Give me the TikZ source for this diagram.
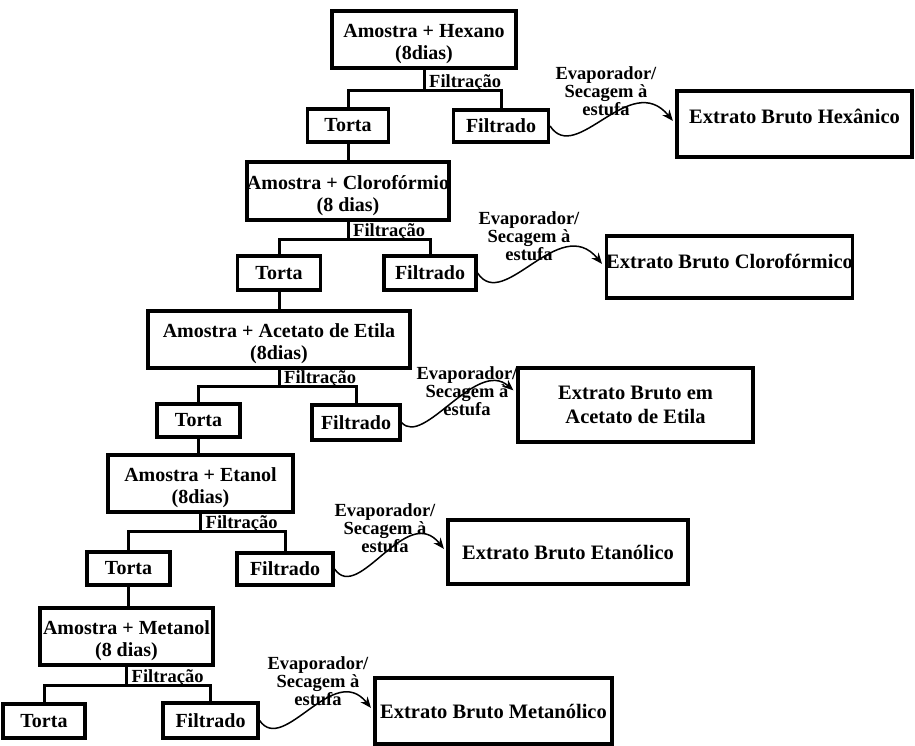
\documentclass[tikz,border=0pt]{standalone}
\usepackage{fontspec}
\setmainfont{Liberation Serif}
\usetikzlibrary{arrows.meta}
\tikzset{
  box/.style={draw, line width=3.2pt, inner sep=0pt, align=center,
    font=\bfseries\fontsize{20}{22}\selectfont},
  abox/.style={box, text height=40pt, text depth=0pt},
  ebox/.style={box, font=\bfseries\fontsize{20.5}{24}\selectfont},
  conn/.style={line width=3pt},
  filt/.style={inner sep=0pt, anchor=base west, font=\bfseries\fontsize{18.5}{18}\selectfont},
  evlabel/.style={inner sep=0pt, align=center, font=\bfseries\fontsize{18.5}{16.5}\selectfont},
  evarrow/.style={-{Stealth[length=11pt, width=9pt]}, line width=1.5pt, shorten >=4pt}
}
\begin{document}
\begin{tikzpicture}[x=1pt, y=-1pt]
  \useasboundingbox (0,0) rectangle (915,745);
  % hexano
  \node[abox, minimum width=184pt, minimum height=57pt] (a1) at (424,39.5) {Amostra + Hexano\\(8dias)};
  \node[box, minimum width=81pt, minimum height=33pt] (t1) at (348,125.5) {Torta};
  \node[box, minimum width=95pt, minimum height=32pt] (f1) at (501,126) {Filtrado};
  \node[ebox, minimum width=235pt, minimum height=66pt, text height=14pt, text depth=15pt] (e1) at (794.5,124) {Extrato Bruto Hexânico};
  \node[evlabel] (ev1) at (606,91) {Evaporador/\\Secagem à\\estufa};
  \draw[conn] (a1.south) -- ++(0,21) coordinate (k1);
  \draw[conn] (t1.north) |- (k1) -| (f1.north);
  \node[filt] (fl1) at ([xshift=5pt, yshift=3pt]k1) {Filtração};
  \draw[evarrow] (f1.east) .. controls +(26,40) and +(-45,-55) .. (e1.west);
  % cloroformio
  \node[abox, minimum width=202pt, minimum height=58pt] (a2) at (348,191) {Amostra + Clorofórmio\\(8 dias)};
  \node[box, minimum width=83pt, minimum height=34pt] (t2) at (279,273) {Torta};
  \node[box, minimum width=92pt, minimum height=34pt] (f2) at (430,273) {Filtrado};
  \node[ebox, minimum width=241pt, minimum height=62pt, text height=14pt, text depth=11pt] (e2) at (729.5,267) {Extrato Bruto Clorofórmico};
  \node[evlabel] (ev2) at (529,236) {Evaporador/\\Secagem à\\estufa};
  \draw[conn] (t1.south) -- (t1.south |- a2.north);
  \draw[conn] (a2.south) -- ++(0,18) coordinate (k2);
  \draw[conn] (t2.north) |- (k2) -| (f2.north);
  \node[filt] (fl2) at ([xshift=5pt, yshift=3pt]k2) {Filtração};
  \draw[evarrow] (f2.east) .. controls +(26,40) and +(-45,-55) .. (e2.west);
  % acetato de etila
  \node[abox, minimum width=262pt, minimum height=57pt] (a3) at (279,339.5) {Amostra + Acetato de Etila\\(8dias)};
  \node[box, minimum width=83pt, minimum height=33pt] (t3) at (198.5,420.5) {Torta};
  \node[box, minimum width=88pt, minimum height=35pt] (f3) at (356,422.5) {Filtrado};
  \node[ebox, minimum width=235pt, minimum height=74pt] (e3) at (635.5,405) {Extrato Bruto em\\Acetato de Etila};
  \node[evlabel] (ev3) at (467,391) {Evaporador/\\Secagem à\\estufa};
  \draw[conn] (t2.south) -- (t2.south |- a3.north);
  \draw[conn] (a3.south) -- ++(0,17) coordinate (k3);
  \draw[conn] (t3.north) |- (k3) -| (f3.north);
  \node[filt] (fl3) at ([xshift=5pt, yshift=3pt]k3) {Filtração};
  \draw[evarrow] (f3.east) .. controls +(22,25) and +(-40,-35) .. ([yshift=12pt]e3.west);
  % etanol
  \node[abox, minimum width=185pt, minimum height=57pt] (a4) at (200.5,483.5) {Amostra + Etanol\\(8dias)};
  \node[box, minimum width=83pt, minimum height=33pt] (t4) at (128.5,568.5) {Torta};
  \node[box, minimum width=96pt, minimum height=32pt] (f4) at (285,569) {Filtrado};
  \node[ebox, minimum width=240pt, minimum height=64pt] (e4) at (568,552) {Extrato Bruto Etanólico};
  \node[evlabel] (ev4) at (385,528) {Evaporador/\\Secagem à\\estufa};
  \draw[conn] (t3.south) -- (t3.south |- a4.north);
  \draw[conn] (a4.south) -- ++(0,18) coordinate (k4);
  \draw[conn] (t4.north) |- (k4) -| (f4.north);
  \node[filt] (fl4) at ([xshift=5pt, yshift=3pt]k4) {Filtração};
  \draw[evarrow] (f4.east) .. controls +(24,35) and +(-40,-50) .. (e4.west);
  % metanol
  \node[abox, minimum width=173pt, minimum height=57pt] (a5) at (126.5,636.5) {Amostra + Metanol\\(8 dias)};
  \node[box, minimum width=82pt, minimum height=34pt] (t5) at (44,721) {Torta};
  \node[box, minimum width=95pt, minimum height=35pt] (f5) at (210.5,720.5) {Filtrado};
  \node[ebox, minimum width=237pt, minimum height=66pt] (e5) at (493.5,711) {Extrato Bruto Metanólico};
  \node[evlabel] (ev5) at (318,681) {Evaporador/\\Secagem à\\estufa};
  \draw[conn] (t4.south) -- (t4.south |- a5.north);
  \draw[conn] (a5.south) -- ++(0,19) coordinate (k5);
  \draw[conn] (t5.north) |- (k5) -| (f5.north);
  \node[filt] (fl5) at ([xshift=5pt, yshift=3pt]k5) {Filtração};
  \draw[evarrow] (f5.east) .. controls +(24,35) and +(-40,-50) .. (e5.west);
\end{tikzpicture}
\end{document}
